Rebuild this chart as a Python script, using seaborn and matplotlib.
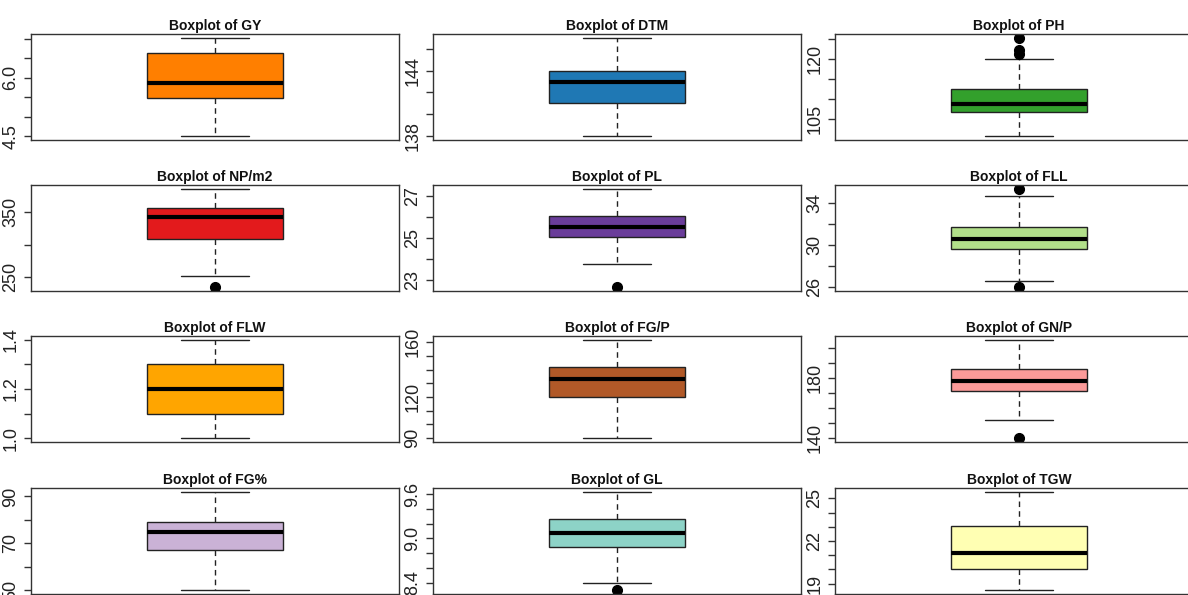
import matplotlib
matplotlib.use("Agg")
import matplotlib.pyplot as plt
import numpy as np
import pandas as pd
import seaborn as sns

# ---------------- data ----------------
titles = ["GY", "DTM", "PH", "NP/m2", "PL", "FLL",
          "FLW", "FG/P", "GN/P", "FG%", "GL", "TGW"]

gy = [4.5, 5.1, 5.48, 5.7, 5.87, 6.2, 6.65, 6.85, 7.03]
dtm = [138, 140, 141, 142, 143, 143.5, 144, 145, 147]
ph = [100.8, 103.5, 105.0, 106.0, 106.8, 107.5, 108.0, 108.5, 108.9,
      109.6, 110.5, 111.5, 112.5, 120.0, 121.4, 122.3, 125.3]
np_m2 = [235, 252, 309, 330, 341.7, 350, 356, 370, 385]
pl = [22.64, 23.72, 25.02, 25.3, 25.51, 25.8, 26.03, 26.6, 27.33]
fll = [26.0, 26.54, 29.6, 30.1, 30.59, 31.2, 31.76, 34.63, 35.34]
flw = [1.0, 1.05, 1.1, 1.15, 1.2, 1.25, 1.3, 1.35, 1.4]
fg_p = [90, 105, 120.1, 128, 133.2, 138, 142.2, 150, 161.6]
gn_p = [139.8, 151.9, 171.5, 175, 177.6, 182, 186.1, 195, 205.2]
fg_pct = [50, 60, 67.1, 72, 75.0, 77, 79.2, 85, 91.9]
gl = [8.30, 8.40, 8.89, 9.0, 9.08, 9.15, 9.26, 9.45, 9.63]
tgw = [18.55, 19.3, 20.0, 20.6, 21.14, 22.0, 23.03, 24.2, 25.45]

series = [gy, dtm, ph, np_m2, pl, fll, flw, fg_p, gn_p, fg_pct, gl, tgw]

colors = ["#FF7F00", "#1F78B4", "#33A02C", "#E31A1C", "#6A3D9A", "#B2DF8A",
          "#FFA500", "#B15928", "#FB9A99", "#CAB2D6", "#8DD3C7", "#FFFFB3"]

tick_values = [
    [4.5, 5.0, 5.5, 6.0, 6.5, 7.0],
    [138, 140, 142, 144, 146],
    [105, 110, 115, 120, 125],
    [250, 300, 350],
    [23, 24, 25, 26, 27],
    [26, 28, 30, 32, 34],
    [1.0, 1.1, 1.2, 1.3, 1.4],
    [90, 100, 110, 120, 130, 140, 150, 160],
    [140, 150, 160, 170, 180, 190, 200],
    [50, 60, 70, 80, 90],
    [8.4, 8.6, 8.8, 9.0, 9.2, 9.4, 9.6],
    [19, 20, 21, 22, 23, 24, 25],
]
tick_labels = [
    ["4.5", "", "", "6.0", "", ""],
    ["138", "", "", "144", ""],
    ["105", "", "", "120", ""],
    ["250", "", "350"],
    ["23", "", "25", "", "27"],
    ["26", "", "30", "", "34"],
    ["1.0", "", "1.2", "", "1.4"],
    ["90", "", "", "120", "", "", "", "160"],
    ["140", "", "", "", "180", "", ""],
    ["50", "", "70", "", "90"],
    ["8.4", "", "", "9.0", "", "", "9.6"],
    ["19", "", "", "22", "", "", "25"],
]

# ---------------- style ----------------
sns.set_theme(style="white")
plt.rcParams["font.family"] = ["Liberation Sans", "DejaVu Sans"]

W, H = 1188, 595
fig = plt.figure(figsize=(W / 100, H / 100), dpi=100)
fig.patch.set_facecolor("white")

col_left = [31, 433, 835]
col_w = 368
row_top = [34, 185, 336, 488]
row_h = 106
edge = "#222222"

for i, (name, vals, col) in enumerate(zip(titles, series, colors)):
    r, c = divmod(i, 3)
    ax = fig.add_axes([col_left[c] / W, 1 - (row_top[r] + row_h) / H,
                       col_w / W, row_h / H])
    df = pd.DataFrame({"value": vals})
    sns.boxplot(
        data=df, y="value", ax=ax, width=0.4, color=col, saturation=1,
        linewidth=1, linecolor=edge, whis=1.5, fliersize=7,
        medianprops=dict(color="black", linewidth=3),
        whiskerprops=dict(linestyle=(0, (4, 3)), color=edge, linewidth=1),
        capprops=dict(color=edge, linewidth=1),
        flierprops=dict(marker="o", markerfacecolor="black",
                        markeredgecolor="black"),
    )
    lo, hi = min(vals), max(vals)
    ext = 0.04 * (hi - lo)
    ax.set_ylim(lo - ext, hi + ext)
    ax.set_xlim(-0.54, 0.54)
    ax.set_xticks([])
    ax.set_xlabel("")
    ax.set_ylabel("")
    ax.set_yticks(tick_values[i])
    ax.set_yticklabels(tick_labels[i], rotation=90, va="center")
    ax.tick_params(axis="y", length=5, width=1, color="#333333", pad=3.5,
                   labelsize=13, labelcolor="#222222", left=True)
    for sp in ax.spines.values():
        sp.set_visible(True)
        sp.set_color("#333333")
        sp.set_linewidth(1)
    ax.set_title(f"Boxplot of {name}", fontsize=10, fontweight="bold",
                 pad=3.2, color="#111111")

fig.savefig("out.png", dpi=100, facecolor="white")
